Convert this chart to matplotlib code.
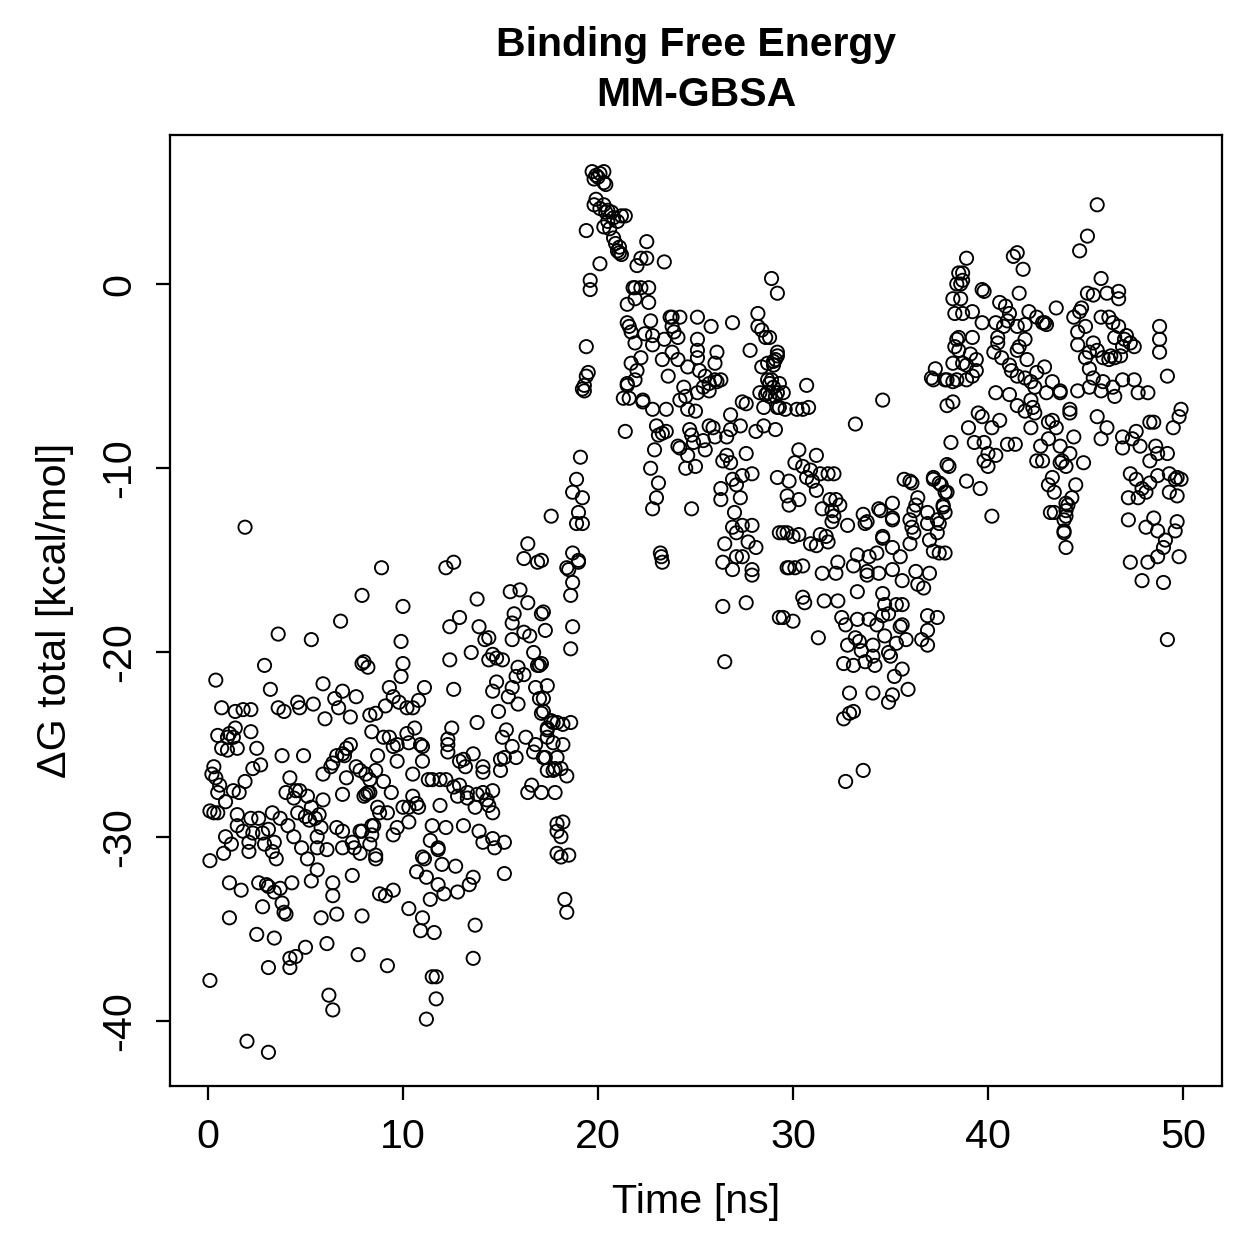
import numpy as np
import matplotlib
matplotlib.use("Agg")
import matplotlib.pyplot as plt

# (time [ns], dG total [kcal/mol]), split by phase
early = [
    (1.9, -13.2), (7.9, -16.9), (6.8, -18.3), (3.6, -19.0), (5.3, -19.3), (2.9, -20.7), (7.9, -20.6), (8.2, -20.8),
    (0.4, -21.5), (3.2, -22.0), (5.9, -21.7), (6.9, -22.1), (7.6, -22.4), (6.5, -22.5), (6.7, -23.0), (7.3, -23.5),
    (6.0, -23.6), (0.7, -23.0), (1.4, -23.2), (1.8, -23.1), (2.2, -23.1), (3.6, -23.0), (3.9, -23.2), (4.6, -22.7),
    (4.7, -23.0), (5.4, -22.8), (8.3, -23.4), (0.5, -24.5), (1.0, -24.6), (1.1, -24.4), (1.4, -24.1), (1.3, -24.6),
    (2.2, -24.3), (0.7, -25.2), (1.0, -25.3), (1.5, -25.2), (2.5, -25.2), (3.8, -25.6), (4.9, -25.6), (6.6, -25.6),
    (6.9, -25.5), (7.1, -25.2), (7.3, -25.0), (7.0, -25.6), (7.6, -26.2), (7.8, -26.4), (8.1, -26.6), (5.9, -26.6),
    (6.3, -26.2), (6.4, -26.0), (7.1, -26.8), (0.3, -26.2), (0.2, -26.6), (0.4, -26.8), (2.7, -26.1), (2.3, -26.3),
    (1.9, -27.0), (1.3, -27.5), (1.6, -27.6), (0.6, -27.2), (0.5, -27.6), (0.9, -28.1), (0.1, -28.6), (0.3, -28.7),
    (0.5, -28.7), (4.2, -26.8), (4.0, -27.6), (4.5, -27.5), (4.7, -27.5), (4.4, -27.9), (5.1, -27.8), (5.3, -28.4),
    (5.9, -28.0), (6.9, -27.7), (8.1, -27.7), (8.3, -27.6), (1.5, -28.8), (1.5, -29.4), (2.2, -29.0), (2.6, -29.0),
    (1.8, -29.7), (2.3, -29.8), (2.8, -29.8), (3.1, -29.6), (3.3, -28.7), (3.7, -29.0), (4.1, -29.4), (4.4, -30.0),
    (4.6, -28.7), (5.0, -28.9), (5.2, -29.1), (5.5, -29.0), (5.7, -28.8), (5.8, -29.5), (6.6, -29.5), (6.9, -29.7),
    (7.8, -29.7), (8.4, -29.4), (0.9, -30.0), (1.2, -30.4), (0.8, -30.9), (0.1, -31.3), (2.1, -30.8), (2.1, -30.3),
    (2.9, -30.4), (3.4, -30.3), (3.3, -30.8), (3.5, -31.2), (4.8, -30.6), (5.1, -31.2), (5.6, -30.0), (5.6, -30.6),
    (6.1, -30.7), (6.9, -30.6), (7.4, -30.3), (7.5, -30.6), (7.8, -30.9), (5.6, -31.8), (7.4, -32.1), (1.1, -32.5),
    (1.7, -32.9), (2.6, -32.5), (3.0, -32.6), (3.1, -32.7), (3.4, -33.0), (3.7, -32.8), (4.3, -32.5), (3.8, -33.6),
    (3.9, -34.1), (4.0, -34.2), (2.8, -33.8), (5.3, -32.4), (6.4, -32.5), (6.4, -33.2), (6.6, -34.2), (5.8, -34.4),
    (7.9, -34.3), (1.1, -34.4), (2.5, -35.3), (3.4, -35.5), (5.0, -36.0), (4.5, -36.5), (4.2, -36.6), (4.2, -37.1),
    (3.1, -37.1), (6.1, -35.8), (7.7, -36.4), (0.1, -37.8), (6.2, -38.6), (6.4, -39.4), (2.0, -41.1), (3.1, -41.7),
    (8.9, -15.4), (12.2, -15.4), (12.6, -15.1), (16.4, -14.1), (16.2, -14.9), (16.9, -15.1), (10.0, -17.5),
    (13.8, -17.1), (15.5, -16.7), (16.0, -16.6), (16.4, -17.3), (17.1, -17.9), (15.7, -17.9), (15.6, -18.4),
    (17.3, -18.8), (16.2, -18.9), (16.5, -19.1), (15.6, -19.3), (12.9, -18.1), (12.4, -18.6), (13.9, -18.6),
    (14.2, -19.3), (14.4, -19.2), (13.5, -20.0), (9.9, -19.4), (8.0, -20.5), (10.0, -20.6), (9.9, -21.3),
    (12.4, -20.4), (14.6, -20.1), (14.8, -20.3), (15.1, -20.4), (14.4, -20.4), (16.7, -20.0), (16.9, -20.7),
    (17.0, -20.7), (15.9, -20.8), (16.2, -21.2), (15.8, -21.3), (14.8, -21.6), (14.6, -22.1), (15.6, -21.9),
    (15.4, -22.4), (15.9, -22.8), (17.4, -21.8), (16.8, -21.9), (17.0, -22.5), (17.1, -23.3), (14.9, -23.2),
    (12.6, -22.0), (9.3, -21.9), (9.5, -22.4), (9.8, -22.7), (10.2, -23.0), (10.5, -23.0), (10.8, -22.6),
    (11.1, -21.9), (8.6, -23.3), (9.1, -22.9), (13.8, -23.8), (12.5, -24.1), (8.4, -24.3), (9.0, -24.6),
    (9.3, -24.6), (10.2, -24.4), (10.6, -24.1), (10.3, -24.9), (9.5, -25.1), (9.7, -25.0), (10.9, -25.0),
    (11.0, -25.1), (12.3, -24.7), (12.3, -25.0), (12.3, -25.4), (15.3, -24.2), (15.1, -24.6), (15.6, -25.1),
    (16.3, -24.6), (16.8, -25.0), (16.7, -25.4), (17.4, -24.1), (17.7, -23.8), (17.4, -24.6), (17.7, -24.9),
    (17.3, -25.7), (17.9, -25.7), (17.7, -26.4), (17.4, -26.4), (16.6, -27.2), (16.4, -27.6), (17.1, -27.6),
    (17.8, -27.6), (13.6, -25.5), (13.1, -25.8), (12.9, -25.9), (13.2, -26.2), (14.1, -26.2), (14.1, -26.5),
    (15.0, -25.8), (15.2, -25.7), (15.8, -25.7), (15.0, -26.4), (8.7, -25.6), (9.7, -25.9), (11.0, -25.9),
    (10.5, -26.6), (11.3, -26.9), (11.5, -26.9), (11.9, -26.9), (12.2, -26.9), (8.6, -26.4), (8.3, -26.9),
    (9.0, -27.0), (9.4, -27.6), (8.0, -27.8), (8.2, -27.6), (12.6, -27.3), (12.9, -27.2), (12.8, -27.8),
    (13.3, -27.6), (13.3, -27.9), (13.8, -27.7), (14.1, -27.6), (14.6, -27.5), (14.3, -28.0), (14.4, -28.3),
    (14.6, -28.7), (13.7, -28.4), (10.5, -27.8), (10.7, -28.2), (10.8, -28.4), (11.9, -28.3), (10.3, -28.4),
    (10.0, -28.4), (8.7, -28.4), (8.8, -28.7), (9.2, -28.7), (10.3, -29.2), (9.7, -29.5), (9.5, -29.9),
    (8.5, -29.4), (8.4, -29.9), (7.9, -29.7), (8.3, -30.4), (8.6, -31.0), (11.5, -29.4), (12.2, -29.5),
    (13.1, -29.4), (11.4, -30.2), (11.8, -30.6), (11.0, -31.1), (13.9, -29.7), (14.1, -30.3), (14.6, -30.1),
    (14.7, -30.6), (15.2, -30.3), (17.9, -29.3), (17.9, -29.7), (17.9, -30.9), (8.6, -31.2), (10.7, -31.9),
    (11.1, -31.2), (11.2, -32.2), (11.8, -30.7), (12.0, -31.5), (12.7, -31.6), (11.8, -32.6), (12.1, -33.1),
    (11.4, -33.4), (12.8, -33.0), (13.4, -32.6), (13.6, -32.2), (15.2, -32.0), (8.8, -33.1), (9.1, -33.2),
    (9.5, -32.9), (10.3, -33.9), (11.0, -34.4), (10.9, -35.1), (11.6, -35.2), (13.7, -34.8), (9.2, -37.0),
    (13.6, -36.6), (11.5, -37.6), (11.7, -37.6), (11.7, -38.8), (11.2, -39.9),
    (18.5, -15.5), (18.7, -16.2), (19.0, -15.1), (18.6, -16.9), (17.2, -17.8), (18.7, -18.6), (18.6, -19.8),
    (17.1, -20.6), (17.2, -22.5), (17.2, -23.2), (17.6, -23.7), (17.9, -23.8), (18.2, -23.9), (18.6, -23.8),
    (17.4, -24.2), (18.2, -25.0), (17.2, -25.7), (18.1, -26.3), (17.8, -26.3), (18.4, -26.7), (18.2, -29.2),
    (18.1, -30.0), (18.1, -31.1), (18.5, -31.0), (18.3, -33.4), (18.4, -34.1), (18.9, -10.6), (18.7, -11.3),
    (19.2, -11.6), (19.0, -12.4), (18.9, -13.0), (19.2, -13.0), (17.6, -12.6), (18.7, -14.6), (19.0, -15.0),
    (18.4, -15.4), (17.1, -15.0), (19.1, -9.4),
]

jump = [
    (19.7, 6.1), (19.9, 5.9), (20.1, 6.0), (20.3, 6.1), (20.0, 5.8), (19.8, 5.7), (20.3, 5.5), (20.4, 5.4),
    (19.8, 4.3), (19.9, 4.6), (20.1, 4.1), (20.3, 4.3), (20.4, 3.9), (20.5, 4.0), (20.7, 3.9), (20.8, 3.6),
    (21.0, 3.4), (21.2, 3.7), (21.4, 3.7), (20.5, 3.4), (20.6, 3.0), (20.3, 3.1), (20.8, 2.5), (20.9, 2.2),
    (21.0, 1.8), (21.1, 1.7), (21.2, 1.6), (21.1, 2.0), (19.4, 2.9), (20.1, 1.1), (19.6, 0.2), (19.6, -0.3),
    (22.0, 1.0), (21.5, -1.1), (21.9, -0.2), (19.4, -3.4), (19.5, -4.8), (19.4, -5.0), (19.3, -5.5), (19.3, -5.8),
    (19.2, -5.7), (21.4, -8.0), (22.5, 2.3), (22.2, 1.4), (22.5, 1.4), (23.4, 1.2), (28.9, 0.3), (29.2, -0.5),
    (21.8, -0.2), (22.2, -0.2), (22.6, -0.2), (21.9, -0.8), (22.6, -1.0), (21.5, -2.1), (21.6, -2.3),
    (21.7, -2.6), (22.7, -2.0), (22.4, -2.7), (22.8, -2.8), (21.9, -3.2), (22.8, -3.3), (23.7, -1.8),
    (23.8, -1.8), (24.2, -1.8), (23.8, -2.3), (23.9, -2.6), (24.1, -2.9), (23.4, -3.0), (25.1, -1.8),
    (25.8, -2.3), (26.9, -2.1), (25.1, -3.0), (25.1, -3.6), (25.1, -4.0), (26.1, -3.7), (26.0, -4.3),
    (28.2, -1.6), (28.2, -2.3), (28.4, -2.5), (28.6, -2.9), (27.8, -3.6), (29.2, -3.7), (23.8, -3.7),
    (23.3, -4.1), (24.1, -4.1), (22.2, -4.0), (21.7, -4.3), (22.0, -4.7), (21.9, -5.2), (21.5, -5.4),
    (24.6, -4.5), (23.6, -5.0), (25.2, -4.7), (25.5, -5.0), (25.7, -5.4), (26.0, -5.2), (26.3, -5.2),
    (28.4, -4.5), (28.7, -4.3), (29.0, -4.2), (28.7, -5.2), (28.8, -5.4), (28.3, -5.9), (28.7, -5.9),
    (21.5, -5.5), (21.3, -6.2), (21.6, -6.2), (22.3, -6.3), (22.3, -6.4), (22.8, -6.8), (23.5, -6.8),
    (24.2, -6.3), (24.4, -5.6), (24.5, -6.1), (24.6, -6.8), (25.0, -6.9), (25.1, -5.9), (25.4, -5.6),
    (25.7, -5.8), (26.1, -5.3), (27.4, -6.4), (27.6, -6.5), (28.6, -6.0), (28.8, -6.1), (29.2, -5.9),
    (28.5, -6.7), (29.2, -6.7), (23.0, -7.7), (23.1, -8.2), (23.5, -8.0), (23.3, -8.1), (22.9, -9.0),
    (22.7, -10.0), (23.1, -10.8), (23.0, -11.6), (22.8, -12.2), (24.7, -7.9), (24.8, -8.2), (24.2, -8.9),
    (24.1, -8.8), (24.6, -9.3), (24.5, -10.0), (25.0, -9.9), (24.9, -8.6), (25.4, -8.5), (25.5, -9.0),
    (25.7, -7.7), (25.9, -7.8), (26.0, -8.3), (26.6, -8.3), (26.8, -7.1), (27.3, -7.7), (26.8, -7.9),
    (26.4, -9.6), (26.6, -9.3), (26.8, -9.7), (27.6, -9.2), (28.1, -8.0), (28.5, -7.7), (29.1, -7.9),
    (26.9, -10.6), (27.1, -10.9), (27.4, -10.4), (27.9, -10.3), (26.3, -11.1), (26.3, -11.7), (27.3, -11.6),
    (27.0, -12.4), (29.2, -10.5), (26.9, -13.2), (27.4, -13.1), (27.9, -13.1), (27.1, -13.5), (26.5, -14.1),
    (27.7, -14.0), (28.1, -14.3), (27.1, -14.8), (27.4, -14.8), (26.4, -15.1), (26.9, -15.5), (27.9, -15.8),
    (27.9, -15.5), (23.2, -14.6), (23.3, -15.1), (23.25, -14.8), (24.8, -12.2), (26.4, -17.5), (27.6, -17.3),
    (26.5, -20.5), (29.3, -13.5), (29.3, -18.1),
]

dip = [
    (28.8, -2.9), (29.2, -3.9), (29.1, -4.1), (29.0, -4.4), (29.3, -5.4), (29.5, -5.9), (28.9, -5.2), (29.0, -5.6),
    (29.1, -6.1), (29.3, -6.7), (29.6, -6.8), (30.2, -6.8), (30.5, -6.8), (30.8, -6.7), (30.7, -5.5), (34.6, -6.3),
    (33.2, -7.6), (30.3, -9.0), (31.2, -9.3), (30.1, -9.7), (30.5, -9.9), (30.9, -10.1), (30.7, -10.5),
    (31.0, -10.7), (31.4, -10.3), (31.8, -10.3), (32.1, -10.3), (29.8, -10.7), (29.7, -11.5), (30.3, -11.7),
    (29.8, -12.0), (31.2, -11.2), (31.5, -12.2), (31.9, -11.7), (32.2, -11.7), (32.0, -12.3), (32.4, -12.0),
    (32.1, -12.6), (32.8, -13.1), (33.6, -12.5), (33.8, -12.9), (34.4, -12.2), (34.5, -12.3), (35.1, -11.9),
    (35.1, -12.7), (34.6, -13.7), (35.7, -10.6), (36.0, -10.7), (36.1, -10.8), (37.2, -10.6), (37.5, -10.8),
    (37.8, -11.3), (36.4, -11.6), (36.3, -12.0), (36.2, -12.3), (36.9, -12.4), (36.9, -13.0), (37.7, -12.1),
    (37.8, -12.4), (37.5, -13.0), (36.0, -12.8), (36.1, -13.2), (36.2, -13.5), (37.4, -13.5), (29.5, -13.5),
    (29.7, -13.5), (30.0, -13.7), (30.3, -13.6), (30.9, -14.1), (31.2, -14.2), (31.4, -13.6), (31.7, -13.7),
    (31.8, -14.0), (32.0, -12.9), (33.7, -13.0), (35.1, -12.8), (29.7, -15.4), (29.8, -15.4), (30.1, -15.4),
    (30.5, -15.3), (31.5, -15.7), (32.2, -15.7), (32.3, -15.1), (33.1, -15.3), (33.3, -14.7), (33.9, -14.8),
    (34.3, -14.6), (33.8, -15.6), (33.8, -15.8), (34.4, -15.7), (34.6, -13.8), (35.1, -14.3), (35.5, -14.8),
    (36.0, -14.1), (35.1, -15.5), (35.6, -16.1), (36.3, -15.6), (37.0, -15.7), (36.4, -16.3), (36.7, -16.5),
    (37.0, -13.9), (37.2, -14.5), (37.5, -14.6), (37.8, -14.6), (33.3, -16.7), (34.6, -16.8), (34.7, -17.4),
    (35.3, -17.4), (35.6, -17.4), (34.9, -17.9), (34.6, -18.0), (30.5, -17.0), (30.6, -17.3), (31.6, -17.2),
    (32.3, -17.2), (32.5, -18.1), (32.7, -18.5), (33.3, -18.2), (33.9, -18.2), (34.3, -18.5), (29.5, -18.1),
    (30.0, -18.3), (31.3, -19.2), (32.8, -19.6), (33.2, -19.2), (33.4, -19.4), (33.5, -19.9), (34.1, -19.6),
    (34.7, -19.1), (35.3, -19.5), (35.8, -19.3), (35.5, -18.6), (35.6, -18.5), (36.6, -19.3), (36.9, -19.6),
    (36.9, -18.8), (36.9, -18.0), (37.4, -18.1), (32.6, -20.6), (33.1, -20.7), (33.7, -20.5), (34.2, -20.7),
    (34.1, -20.2), (34.9, -20.0), (35.0, -20.2), (35.6, -20.9), (35.2, -21.3), (32.9, -22.2), (34.1, -22.2),
    (34.9, -22.7), (35.1, -22.3), (35.9, -22.0), (32.6, -23.6), (32.9, -23.3), (33.1, -23.2), (32.7, -27.0),
    (33.6, -26.4),
]

late = [
    (38.5, 0.6), (38.4, 0.0), (38.2, -0.8), (38.3, -1.6), (38.4, -3.0), (38.3, -3.4), (38.2, -4.3), (37.3, -4.6),
    (37.1, -5.1), (37.9, -5.2), (38.2, -5.3), (38.2, -6.4), (37.9, -6.6), (38.1, -8.6), (38.0, -9.9),
    (38.9, 1.4), (41.3, 1.5), (41.5, 1.7), (41.8, 0.8), (38.7, 0.6), (38.7, 0.2), (38.6, 0.0), (38.6, -0.8),
    (39.7, -0.3), (39.8, -0.4), (41.6, -0.5), (43.5, -1.3), (38.7, -1.6), (39.2, -1.5), (39.7, -2.1),
    (40.6, -1.0), (40.9, -1.2), (41.1, -1.6), (41.0, -2.0), (40.4, -2.1), (40.8, -2.3), (40.5, -2.9),
    (41.5, -2.3), (41.9, -2.2), (42.1, -1.5), (42.5, -1.8), (42.8, -2.1), (42.9, -2.1), (43.0, -2.2),
    (38.5, -2.9), (39.2, -2.9), (38.5, -3.6), (39.1, -3.8), (39.4, -4.1), (38.7, -4.3), (38.9, -4.4),
    (39.4, -4.7), (39.2, -5.0), (38.9, -5.2), (38.4, -5.2), (37.8, -5.2), (37.2, -5.2), (40.5, -3.2),
    (40.7, -4.0), (40.3, -3.7), (41.5, -3.6), (41.6, -3.4), (41.9, -3.0), (42.0, -4.1), (41.1, -4.4),
    (41.2, -4.7), (41.5, -5.0), (41.9, -5.1), (42.2, -5.3), (42.4, -5.6), (42.5, -4.8), (42.9, -4.5),
    (43.3, -5.3), (43.7, -5.9), (43.0, -5.9), (40.4, -5.9), (41.1, -6.0), (41.5, -6.6), (41.9, -6.9),
    (42.2, -6.3), (42.3, -6.7), (42.4, -7.0), (39.5, -7.0), (39.7, -7.2), (40.2, -7.8), (40.6, -7.4),
    (39.0, -7.8), (39.3, -8.6), (39.8, -8.6), (40.0, -9.2), (39.8, -9.6), (40.0, -9.9), (40.4, -9.3),
    (41.0, -8.7), (41.4, -8.7), (42.2, -7.8), (43.1, -7.5), (43.3, -7.4), (43.5, -7.8), (43.1, -8.4),
    (42.7, -8.8), (42.5, -9.6), (42.8, -9.6), (43.7, -8.8), (43.8, -9.6), (44.0, -9.9), (43.3, -10.5),
    (43.1, -10.9), (43.4, -11.3), (43.2, -12.4), (43.4, -12.4), (44.0, -11.9), (44.0, -12.6), (43.9, -13.4),
    (37.9, -9.8), (38.9, -10.7), (39.6, -11.1), (40.2, -12.6), (37.2, -10.5), (37.6, -10.9), (37.9, -11.3),
    (37.7, -12.0), (37.4, -12.8), (45.6, 4.3), (45.1, 2.6), (44.7, 1.8), (45.8, 0.3), (45.1, -0.5),
    (45.4, -0.6), (46.1, -0.5), (46.7, -0.4), (46.7, -0.8), (44.8, -1.3), (44.7, -1.5), (44.4, -1.8),
    (44.6, -2.6), (45.0, -2.3), (45.8, -1.8), (46.2, -1.8), (46.4, -2.1), (46.7, -2.3), (46.5, -2.9),
    (47.1, -2.8), (47.3, -3.2), (47.5, -3.4), (47.0, -3.0), (44.6, -3.3), (45.4, -3.2), (45.2, -3.7),
    (45.0, -4.0), (45.6, -3.6), (45.9, -4.0), (46.3, -3.9), (46.2, -4.1), (46.5, -4.0), (46.8, -3.9),
    (46.9, -3.4), (48.8, -2.3), (48.8, -3.0), (48.8, -3.7), (45.2, -4.6), (45.4, -5.1), (45.2, -5.6),
    (45.8, -5.8), (45.9, -5.3), (46.4, -5.6), (46.5, -6.1), (46.9, -5.2), (47.5, -5.2), (47.7, -5.9),
    (48.2, -5.9), (44.6, -5.8), (44.2, -6.8), (49.2, -5.0), (45.6, -7.2), (46.1, -7.8), (45.8, -8.4),
    (46.9, -8.3), (46.9, -8.9), (47.4, -8.4), (47.6, -8.0), (47.8, -8.8), (48.3, -7.5), (48.5, -7.5),
    (48.6, -8.8), (48.7, -9.2), (48.3, -9.6), (49.2, -9.2), (49.5, -7.8), (49.9, -6.8), (49.8, -7.2),
    (43.7, -5.8), (44.2, -7.0), (44.4, -8.3), (44.2, -9.2), (43.7, -9.7), (44.9, -9.7), (44.5, -10.9),
    (44.3, -11.6), (44.1, -12.0), (44.0, -12.3), (43.9, -12.8), (43.9, -13.5), (44.0, -14.3), (47.3, -10.3),
    (47.6, -10.6), (47.9, -11.1), (48.3, -10.8), (47.7, -11.6), (48.1, -11.3), (47.2, -11.6), (48.7, -10.4),
    (49.3, -10.3), (49.6, -10.6), (49.7, -10.5), (49.9, -10.6), (49.3, -11.3), (49.7, -11.5), (47.2, -12.8),
    (48.1, -13.2), (48.5, -12.7), (48.7, -13.4), (49.1, -13.9), (49.6, -13.4), (49.7, -12.9), (49.0, -14.3),
    (48.7, -14.8), (48.2, -15.1), (47.3, -15.1), (49.8, -14.8), (47.9, -16.1), (49.0, -16.2), (49.2, -19.3),
]

x_ticks = [0, 10, 20, 30, 40, 50]
y_ticks = [-40, -30, -20, -10, 0]
title_lines = ['Binding Free Energy', 'MM-GBSA']

plt.rcParams['font.family'] = ['Liberation Sans', 'DejaVu Sans']

pts = np.array(early + jump + dip + late)
time, dg = pts[:, 0], pts[:, 1]

W = 1259
fig = plt.figure(figsize=(W / 180, W / 180), dpi=180)
ax = fig.add_axes([0.135, 0.1374, 0.8356, 0.7554])

ax.scatter(time, dg, s=28, facecolors='none', edgecolors='black', linewidths=0.75)

ax.set_xlim(-1.95, 52.0)
ax.set_ylim(-43.53, 8.09)
ax.set_xticks(x_ticks)
ax.set_yticks(y_ticks)
ax.set_yticklabels([str(v) for v in y_ticks], rotation=90, va='center')
ax.tick_params(direction='out', length=5.6, width=0.9, pad=7, labelsize=16.5)
for sp in ax.spines.values():
    sp.set_linewidth(0.9)

ax.set_xlabel('Time [ns]', fontsize=16.5, labelpad=11)
ax.set_ylabel('ΔG total [kcal/mol]', fontsize=16.5, labelpad=10.5)

# two-line bold title, centred over the plot box
fig.text(0.553, 1 - 45 / W, title_lines[0], ha='center', va='center', fontsize=16.4, fontweight='bold')
fig.text(0.553, 1 - 95 / W, title_lines[1], ha='center', va='center', fontsize=16.4, fontweight='bold')

fig.savefig('out.png', dpi=180)
